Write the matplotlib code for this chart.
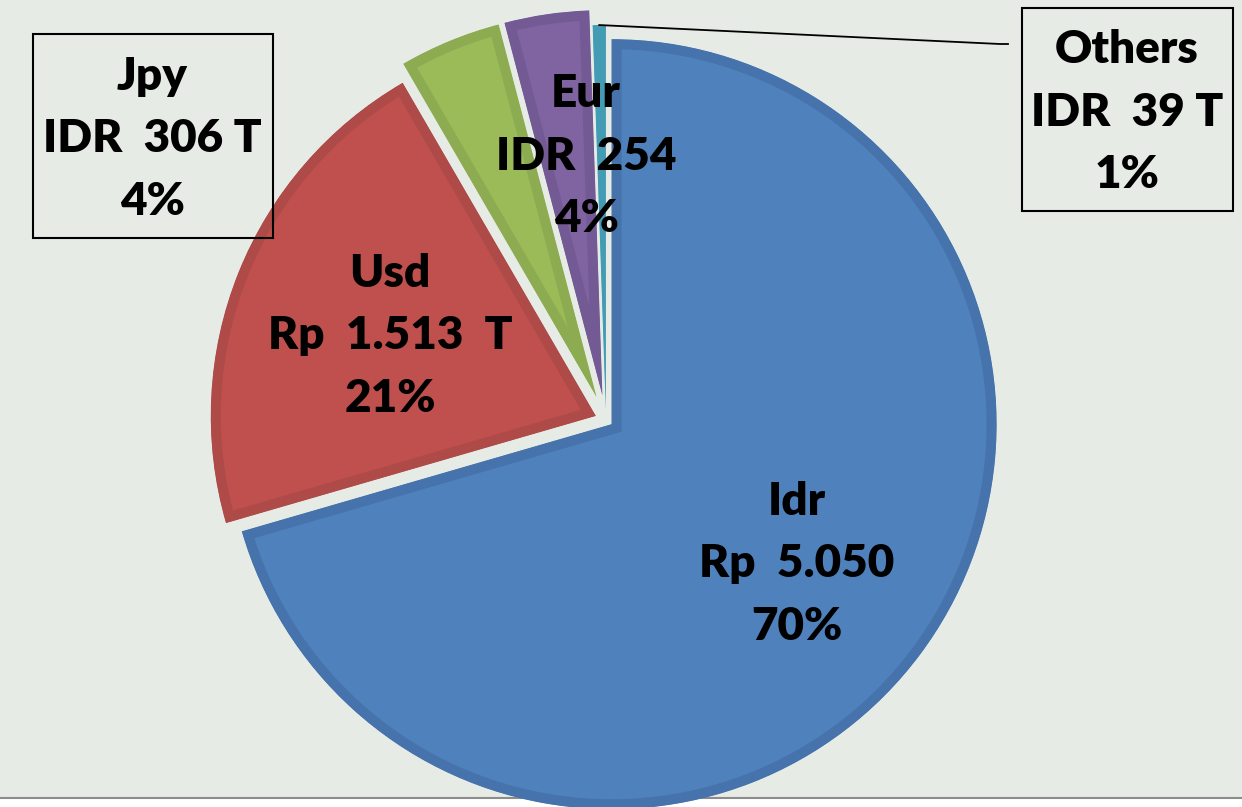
import numpy as np
import matplotlib.pyplot as plt
from matplotlib.patches import Rectangle

plt.rcParams['font.family'] = ['Lato', 'DejaVu Sans']

# komposisi per mata uang (triliun rupiah)
currencies = ['Idr', 'Usd', 'Jpy', 'Eur', 'Others']
amounts = [5050, 1513, 306, 254, 39]
amount_text = ['Rp  5.050', 'Rp  1.513  T', 'IDR  306 T', 'IDR  254', 'IDR  39 T']
pct_text = ['70%', '21%', '4%', '4%', '1%']

fills = ['#4F81BD', '#C0504D', '#9BBB59', '#8064A2', '#4BACC6']
borders = ['#4673AB', '#AE4A47', '#8DAB51', '#745A94', '#439CB4']
explode = [7, 11, 25, 25, 10]

W, H = 1242, 807
bg = '#E6EBE6'

fig = plt.figure(figsize=(W / 100, H / 100), dpi=100)
ax = fig.add_axes([0, 0, 1, 1])

"fondo y linea de abajo"
ax.add_patch(Rectangle((0, 0), W, 797, color=bg, zorder=0))
ax.plot([0, W], [797.5, 797.5], color='#8C8C8C', lw=1.5, zorder=0.5)

wedges, _ = ax.pie(amounts, colors=fills, explode=explode, startangle=-90,
                   counterclock=True, center=(606, 420), radius=385,
                   wedgeprops=dict(linewidth=14.4))
for w, ec in zip(wedges, borders):
    w.set_edgecolor(ec)
    # borde solo hacia adentro
    w.set_clip_on(True)
    w.set_clip_path(w)
    w.set_zorder(2)

ax.set_xlim(0, W)
ax.set_ylim(H, 0)
ax.set_aspect('equal')
ax.axis('off')

"etiquetas"
label_pos = [(797, 564), (390, 336), (152, 139), (586, 156), (1127, 112)]
for name, amt, pct, (x, y) in zip(currencies, amount_text, pct_text, label_pos):
    ax.text(x, y, name + '\n' + amt + '\n' + pct, ha='center', va='center',
            multialignment='center', fontsize=33, fontweight='heavy',
            linespacing=1.62, color='black', zorder=5)

ax.add_patch(Rectangle((33, 34), 240, 204, fill=False, ec='black', lw=1.5, zorder=4))
ax.add_patch(Rectangle((1022, 8), 211, 203, fill=False, ec='black', lw=1.5, zorder=4))

"linea guia de Others"
w = wedges[4]
t = np.deg2rad((w.theta1 + w.theta2) / 2)
tip = (w.center[0] + w.r * np.cos(t), w.center[1] + w.r * np.sin(t))
ax.plot([tip[0], 1000, 1008], [tip[1], 44, 44], color='black', lw=1.3, zorder=4)

fig.savefig('out.png', dpi=100, facecolor='white')
